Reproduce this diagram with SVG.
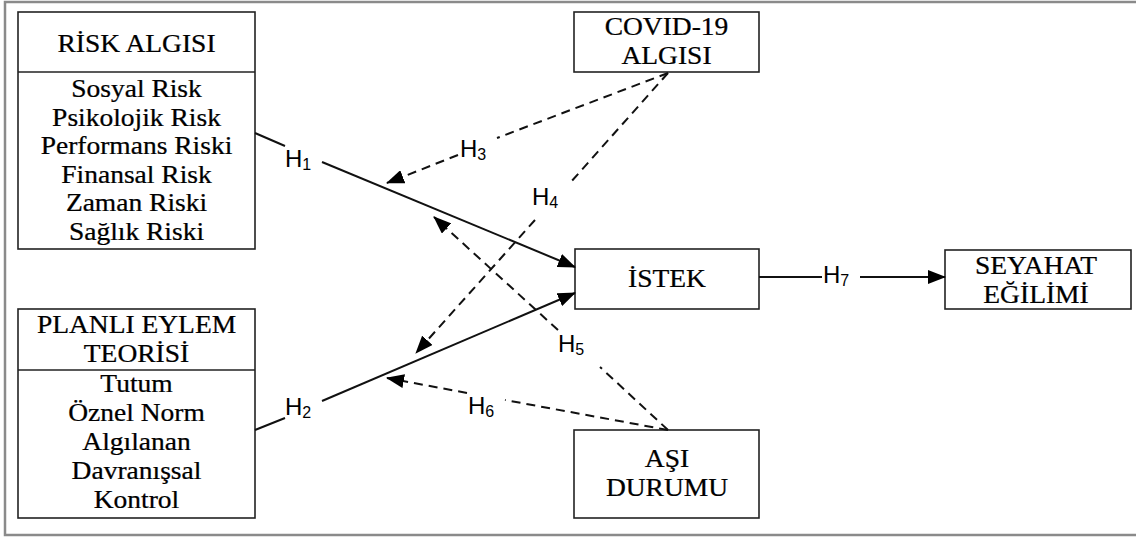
<svg xmlns="http://www.w3.org/2000/svg" width="1136" height="538" viewBox="0 0 1136 538">
<style>
.box{fill:#fff;stroke:#222;stroke-width:1.6}
.t{font-family:"Liberation Serif","Times New Roman",serif;font-size:25px;fill:#000;text-anchor:middle;stroke:#000;stroke-width:0.25}
.h{font-family:"Liberation Sans",Arial,sans-serif;font-size:24px;fill:#000}
.sub{font-size:16px}
.solid{stroke:#111;stroke-width:2;fill:none}
.dash{stroke:#111;stroke-width:2;fill:none;stroke-dasharray:9 6}
</style>
<defs>
<marker id="arr" markerUnits="userSpaceOnUse" viewBox="0 0 18 14" refX="17" refY="7" markerWidth="18" markerHeight="14" orient="auto">
<path d="M0,0 L18,7 L0,14 Z" fill="#000"/>
</marker>
</defs>
<rect x="5" y="2" width="1140" height="533" fill="#fff" stroke="#8a8a8a" stroke-width="2.5"/>

<g id="risk">
<rect class="box" x="18" y="12" width="237" height="237"/>
<line x1="18" y1="72" x2="255" y2="72" stroke="#222" stroke-width="1.6"/>
<text class="t" transform="translate(136.5,52) scale(1.1,1)">RİSK ALGISI</text>
<text class="t" transform="translate(136.5,97) scale(1.1,1)">Sosyal Risk</text>
<text class="t" transform="translate(136.5,125.6) scale(1.1,1)">Psikolojik Risk</text>
<text class="t" transform="translate(136.5,154.2) scale(1.1,1)">Performans Riski</text>
<text class="t" transform="translate(136.5,182.8) scale(1.1,1)">Finansal Risk</text>
<text class="t" transform="translate(136.5,211.4) scale(1.1,1)">Zaman Riski</text>
<text class="t" transform="translate(136.5,240) scale(1.1,1)">Sağlık Riski</text>
</g>

<g id="planli">
<rect class="box" x="18" y="309" width="237" height="209"/>
<line x1="18" y1="370" x2="255" y2="370" stroke="#222" stroke-width="1.6"/>
<text class="t" transform="translate(136.5,333) scale(1.1,1)">PLANLI EYLEM</text>
<text class="t" transform="translate(136.5,362) scale(1.1,1)">TEORİSİ</text>
<text class="t" transform="translate(136.5,392) scale(1.1,1)">Tutum</text>
<text class="t" transform="translate(136.5,421) scale(1.1,1)">Öznel Norm</text>
<text class="t" transform="translate(136.5,450) scale(1.1,1)">Algılanan</text>
<text class="t" transform="translate(136.5,479) scale(1.1,1)">Davranışsal</text>
<text class="t" transform="translate(136.5,508) scale(1.1,1)">Kontrol</text>
</g>

<g id="covid">
<rect class="box" x="574" y="12" width="185" height="60"/>
<text class="t" transform="translate(666.5,35) scale(1.1,1)">COVID-19</text>
<text class="t" transform="translate(666.5,64) scale(1.1,1)">ALGISI</text>
</g>

<g id="istek">
<rect class="box" x="575" y="249" width="184" height="60"/>
<text class="t" transform="translate(667,287) scale(1.1,1)">İSTEK</text>
</g>

<g id="seyahat">
<rect class="box" x="945" y="250" width="186" height="59"/>
<text class="t" transform="translate(1036,274) scale(1.1,1)">SEYAHAT</text>
<text class="t" transform="translate(1036,302.5) scale(1.1,1)">EĞİLİMİ</text>
</g>

<g id="asi">
<rect class="box" x="574" y="430" width="185" height="88"/>
<text class="t" transform="translate(667,467) scale(1.1,1)">AŞI</text>
<text class="t" transform="translate(667,496) scale(1.1,1)">DURUMU</text>
</g>

<g id="connectors">
<line class="solid" x1="255" y1="133" x2="285" y2="146"/>
<line class="solid" x1="322" y1="162" x2="575" y2="267" marker-end="url(#arr)"/>
<line class="solid" x1="255" y1="430" x2="285" y2="418"/>
<line class="solid" x1="322" y1="401" x2="575" y2="293" marker-end="url(#arr)"/>
<line class="solid" x1="759" y1="277" x2="822" y2="277"/>
<line class="solid" x1="860" y1="277" x2="945" y2="277" marker-end="url(#arr)"/>
<line class="dash" x1="668" y1="73" x2="497" y2="138"/>
<line class="dash" x1="458" y1="155" x2="387" y2="183" marker-end="url(#arr)"/>
<line class="dash" x1="668" y1="73" x2="570" y2="183"/>
<line class="dash" x1="535" y1="220" x2="416" y2="353" marker-end="url(#arr)"/>
<line class="dash" x1="668" y1="430" x2="600" y2="367"/>
<line class="dash" x1="558" y1="330" x2="434" y2="217" marker-end="url(#arr)"/>
<line class="dash" x1="668" y1="430" x2="505" y2="400"/>
<line class="dash" x1="467" y1="393" x2="387" y2="378" marker-end="url(#arr)"/>
<text class="h" x="285" y="167">H<tspan class="sub" dy="3">1</tspan></text>
<text class="h" x="285" y="415">H<tspan class="sub" dy="3">2</tspan></text>
<text class="h" x="460" y="157">H<tspan class="sub" dy="3">3</tspan></text>
<text class="h" x="532" y="205">H<tspan class="sub" dy="3">4</tspan></text>
<text class="h" x="558" y="352">H<tspan class="sub" dy="3">5</tspan></text>
<text class="h" x="468" y="414">H<tspan class="sub" dy="3">6</tspan></text>
<text class="h" x="823" y="283">H<tspan class="sub" dy="3">7</tspan></text>
</g>
</svg>
